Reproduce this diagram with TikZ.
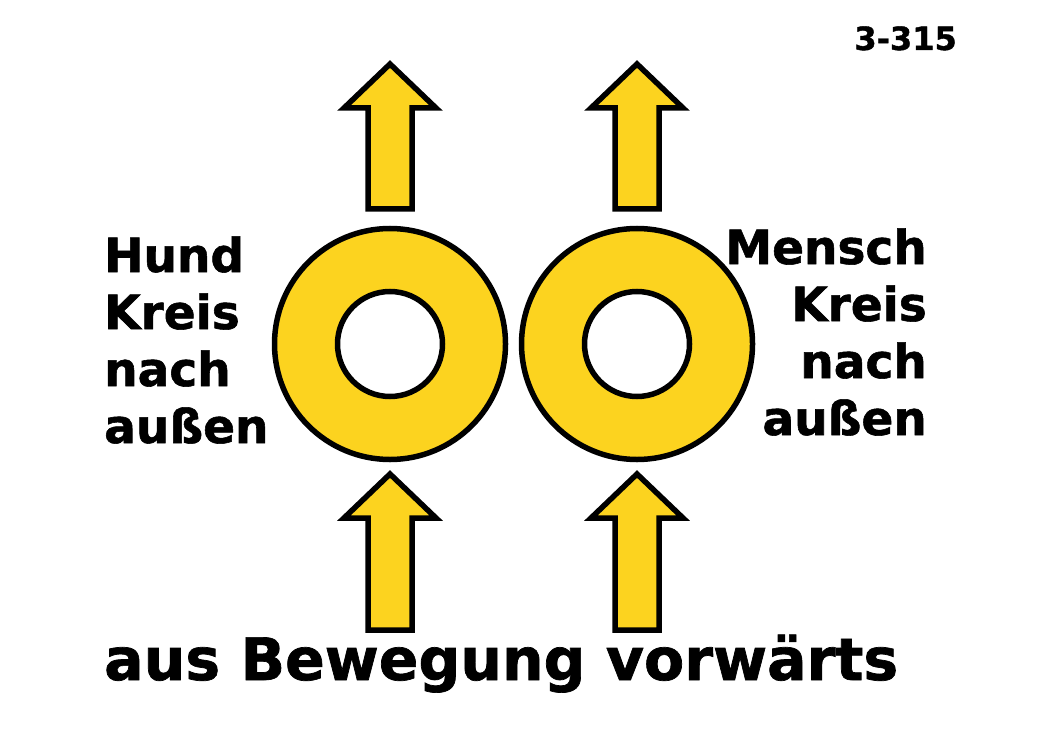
\documentclass[tikz,border=0pt]{standalone}
\usepackage{fontspec}
\setmainfont{DejaVu Sans}[BoldFeatures={FakeBold=1.2}]
\definecolor{ringyellow}{RGB}{252,211,31}
\begin{document}
\begin{tikzpicture}[x=1pt,y=-1pt,
  shapeline/.style={draw=black,line width=5.5pt,line join=miter,fill=ringyellow},
  outerring/.style={circle,shapeline,minimum size=231pt,inner sep=0pt},
  innerring/.style={circle,draw=black,line width=5.5pt,fill=white,minimum size=105pt,inner sep=0pt},
  lbl/.style={font=\bfseries\fontsize{47}{57}\selectfont,inner sep=0pt},
  pics/uparrow/.style args={#1/#2}{code={
    \draw[shapeline] (0,0) -- (46,#2) -- (22,#2) -- (22,#1) -- (-22,#1) -- (-22,#2) -- (-46,#2) -- cycle;
  }}]
\useasboundingbox (0,0) rectangle (1040,735);
% arrows
\pic (arTL) at (390,64) {uparrow={145/44}};
\pic (arTR) at (637,64) {uparrow={145/44}};
\pic (arBL) at (390,474) {uparrow={156/44}};
\pic (arBR) at (637,474) {uparrow={156/44}};
% rings
\node[outerring] (ringL) at (390,344) {};
\node[innerring] (holeL) at (390,344) {};
\node[outerring] (ringR) at (637,344) {};
\node[innerring] (holeR) at (637,344) {};
% left text
\node[lbl,anchor=base west] (h1) at (104,272) {Hund};
\node[lbl,anchor=base west] (h2) at (104,329) {Kreis};
\node[lbl,anchor=base west] (h3) at (104,386) {nach};
\node[lbl,anchor=base west] (h4) at (104,443) {außen};
% right text
\node[lbl,anchor=base east] (m1) at (927,264) {Mensch};
\node[lbl,anchor=base east] (m2) at (927,321) {Kreis};
\node[lbl,anchor=base east] (m3) at (927,378) {nach};
\node[lbl,anchor=base east] (m4) at (927,435) {außen};
% bottom text
\node[font=\bfseries\fontsize{58.5}{62}\selectfont,inner sep=0pt,anchor=base west] (bottom) at (104,680) {aus Bewegung vorwärts};
% number
\node[font=\bfseries\fontsize{32}{36}\selectfont,inner sep=0pt,anchor=base east] (num) at (957,50) {3-315};
\end{tikzpicture}
\end{document}
